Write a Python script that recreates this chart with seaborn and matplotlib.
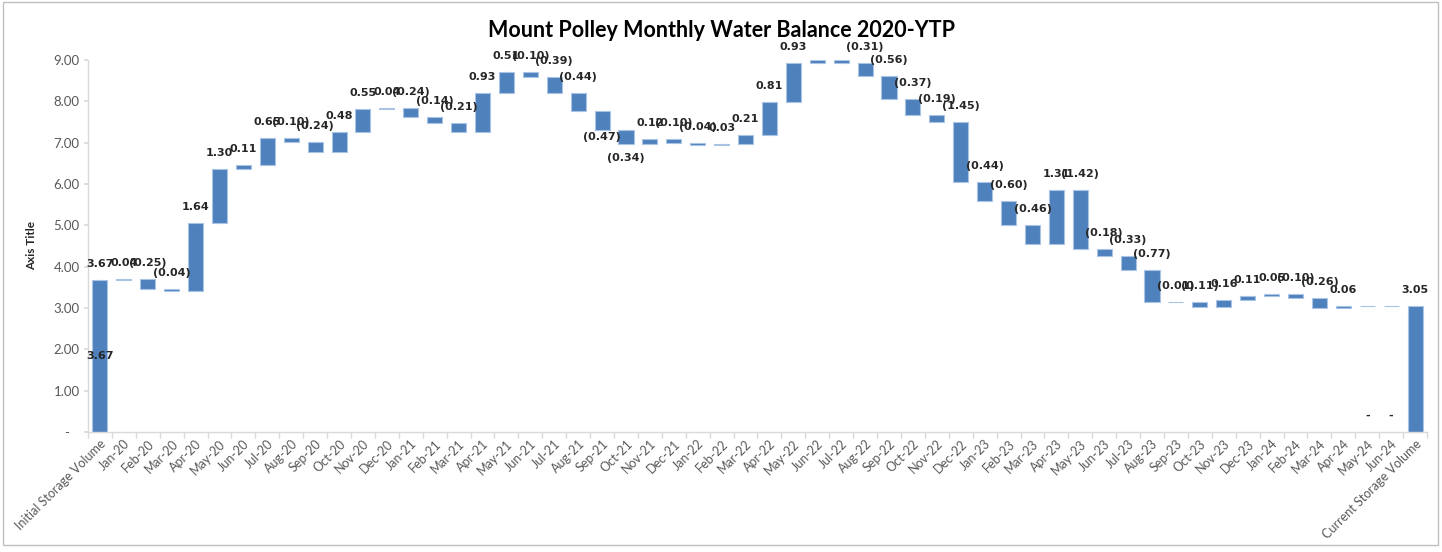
import numpy as np
import pandas as pd
import matplotlib.pyplot as plt
import seaborn as sns
from matplotlib.patches import Rectangle

# values (million m3)
initial = 3.67
current = 3.05
months = ["Jan-20", "Feb-20", "Mar-20", "Apr-20", "May-20", "Jun-20", "Jul-20", "Aug-20",
          "Sep-20", "Oct-20", "Nov-20", "Dec-20", "Jan-21", "Feb-21", "Mar-21", "Apr-21",
          "May-21", "Jun-21", "Jul-21", "Aug-21", "Sep-21", "Oct-21", "Nov-21", "Dec-21",
          "Jan-22", "Feb-22", "Mar-22", "Apr-22", "May-22", "Jun-22", "Jul-22", "Aug-22",
          "Sep-22", "Oct-22", "Nov-22", "Dec-22", "Jan-23", "Feb-23", "Mar-23", "Apr-23",
          "May-23", "Jun-23", "Jul-23", "Aug-23", "Sep-23", "Oct-23", "Nov-23", "Dec-23",
          "Jan-24", "Feb-24", "Mar-24", "Apr-24", "May-24", "Jun-24"]
changes = [0.04, -0.25, -0.04, 1.64, 1.30, 0.11, 0.65, -0.10,
           -0.24, 0.48, 0.55, 0.04, -0.24, -0.14, -0.21, 0.93,
           0.51, -0.10, -0.39, -0.44, -0.47, -0.34, 0.12, -0.10,
           -0.04, 0.03, 0.21, 0.81, 0.93, 0.09, -0.09, -0.31,
           -0.56, -0.37, -0.19, -1.45, -0.44, -0.60, -0.46, 1.31,
           -1.42, -0.18, -0.33, -0.77, -0.01, -0.11, 0.16, 0.11,
           0.05, -0.10, -0.26, 0.06, 0.0, 0.0]
hidden = ["Jun-22", "Jul-22"]            # labels not shown in the original
below = {"Sep-21": 7, "Oct-21": 14}      # labels Excel pushed under the bar

cats = ["Initial Storage Volume"] + months + ["Current Storage Volume"]
level = initial + np.cumsum(changes)
prev = np.r_[initial, level[:-1]]
bottoms = np.r_[0, np.minimum(prev, level), 0]
heights = np.r_[initial, np.abs(changes), current]
tops = bottoms + heights
values = [initial] + changes + [current]
df = pd.DataFrame({"cat": cats, "height": heights})

sns.set_theme(style="white")
plt.rcParams["font.family"] = ["Lato", "DejaVu Sans"]

fig = plt.figure(figsize=(14.42, 5.52), dpi=100)
ax = fig.add_axes([0.061, 0.2174, 0.9286, 0.6739])
sns.barplot(data=df, x="cat", y="height", bottom=bottoms, color="#4F81BD", saturation=1,
            width=0.63, edgecolor="#A9C4E4", linewidth=0.8, ax=ax)


def fmt(v):
    if abs(v) < 0.005:
        return "-"
    return f"{v:.2f}" if v > 0 else f"({-v:.2f})"


lab = dict(ha="center", va="center", fontsize=8, fontweight="bold", color="#262626",
           family="DejaVu Sans", textcoords="offset pixels")
for i, (c, v) in enumerate(zip(cats, values)):
    if c in hidden:
        continue
    if c in below:
        ax.annotate(fmt(v), (i, bottoms[i]), xytext=(0, -below[c]), **lab)
    elif abs(v) < 0.005:
        # zero months: Excel puts the dash label at the axis
        ax.annotate(fmt(v), (i, 0), xytext=(0, 16), **lab)
    else:
        ax.annotate(fmt(v), (i, tops[i]), xytext=(0, 16), **lab)
ax.annotate(fmt(initial), (0, initial / 2), xytext=(0, 0), **lab)

ax.set_xlim(-0.5, len(cats) - 0.5)
ax.set_ylim(0, 9)
yt = np.arange(0, 10)
ax.set_yticks(yt)
ax.set_yticklabels(["-   " if t == 0 else f"{t:.2f}" for t in yt], fontsize=9.5, color="#595959")
ax.set_xticks(np.arange(len(cats)))
ax.set_xticklabels(cats, rotation=45, ha="right", rotation_mode="anchor", fontsize=9, color="#595959")
ax.set_xticks(np.arange(-0.5, len(cats)), minor=True)
ax.tick_params(axis="x", which="major", length=0, pad=4)
ax.tick_params(axis="x", which="minor", length=4, color="#D9D9D9", bottom=True)
ax.tick_params(axis="y", length=3, color="#D9D9D9", left=True, pad=3)
ax.set_xlabel("")
ax.set_ylabel("Axis Title", fontsize=8.5, fontweight="bold", color="#262626", labelpad=12)
for s in ["top", "right"]:
    ax.spines[s].set_visible(False)
for s in ["left", "bottom"]:
    ax.spines[s].set_color("#D9D9D9")
    ax.spines[s].set_linewidth(1)

fig.text(0.5, 0.945, "Mount Polley Monthly Water Balance 2020-YTP", ha="center", va="center",
         fontsize=15.5, fontweight="bold", color="#000000")
fig.patches.append(Rectangle((0.002, 0.012), 0.995, 0.985, transform=fig.transFigure,
                             fill=False, edgecolor="#BFBFBF", linewidth=1))

fig.savefig("out.png", dpi=100)
